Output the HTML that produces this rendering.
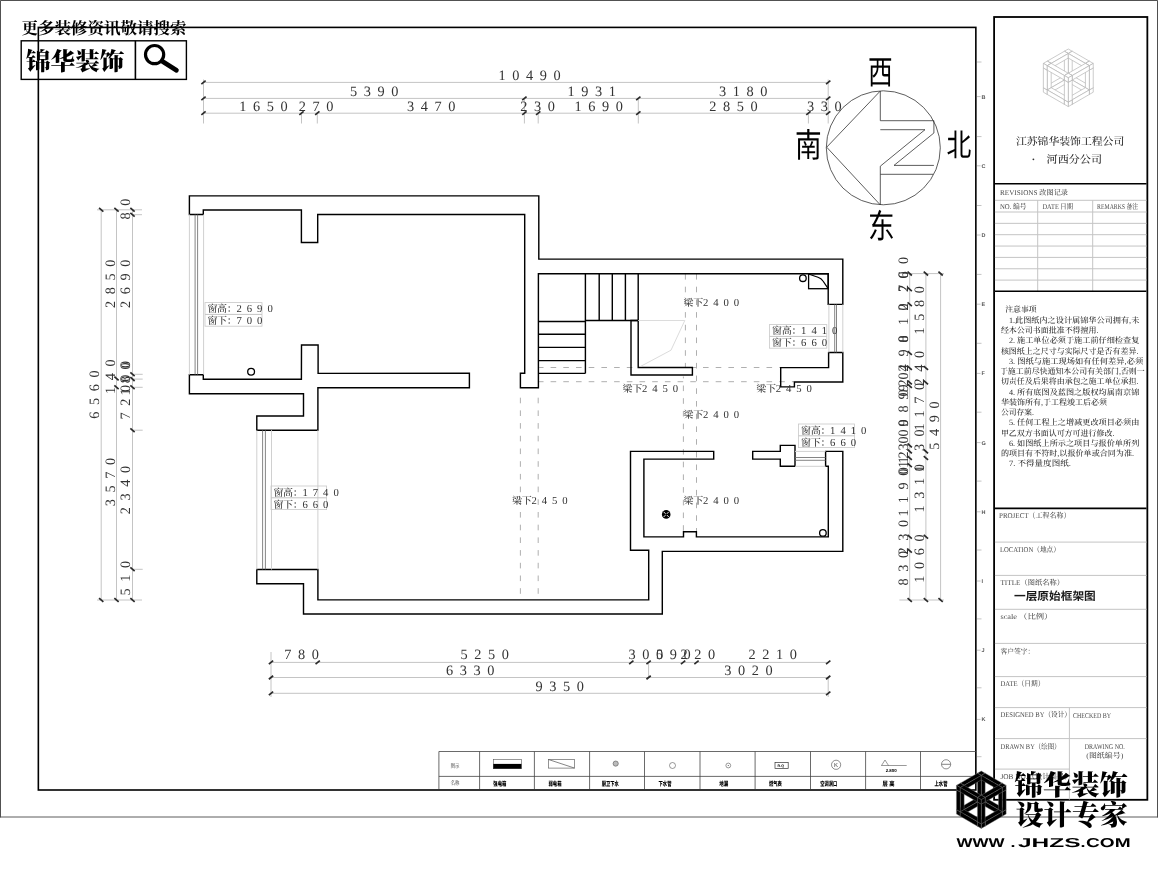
<!DOCTYPE html>
<html lang="zh-CN">
<head>
<meta charset="utf-8">
<title>一层原始框架图</title>
<style>
html,body{margin:0;padding:0;background:#fff;}
body{width:1158px;height:873px;overflow:hidden;}
svg{display:block;will-change:transform;}
text{text-rendering:geometricPrecision;}
.w{fill:none;stroke:#000;stroke-width:1.42;stroke-linejoin:miter;}
.fr{fill:none;stroke:#000;stroke-width:1.6;}
.fr2{fill:none;stroke:#000;stroke-width:1.8;}
.th{fill:none;stroke:#444;stroke-width:0.8;}
.g{stroke:#c4c4c4;stroke-width:1;fill:none;}
.g2{stroke:#d0d0d0;stroke-width:1;fill:none;}
.gl{stroke:#dcdcdc;stroke-width:1;fill:none;}
.wd{stroke:#666;stroke-width:0.8;fill:none;}
.da{stroke:#a6a6a6;stroke-width:0.9;fill:none;stroke-dasharray:5.6 7.1;}
.tk{stroke:#2a2a2a;stroke-width:1.7;fill:none;stroke-linecap:butt;}
.cp{stroke:#333;stroke-width:0.8;fill:none;}
.dm{font-family:"Liberation Serif","Noto Serif CJK SC",serif;font-size:14.3px;letter-spacing:6.6px;fill:#333;}
.lb{font-family:"Liberation Serif","Noto Serif CJK SC",serif;font-size:10px;letter-spacing:-0.3px;fill:#333;font-weight:500;}
.lb .n{font-size:10.7px;letter-spacing:4.95px;font-weight:400;}
.cj{font-family:"Liberation Sans","Noto Sans CJK SC",sans-serif;font-weight:400;fill:#000;}
.sm{font-family:"Liberation Serif","Noto Serif CJK SC",serif;font-size:7.4px;fill:#4a4a4a;font-weight:500;}
.nt{font-family:"Liberation Serif","Noto Serif CJK SC",serif;font-size:8px;fill:#2b2b2b;font-weight:500;}
.co{font-family:"Liberation Serif","Noto Serif CJK SC",serif;font-size:10.6px;fill:#2b2b2b;font-weight:500;}
.mg{font-family:"Liberation Sans",sans-serif;font-size:5.5px;fill:#555;font-weight:bold;}
.tt{font-family:"Liberation Sans","Noto Sans CJK SC",sans-serif;font-size:11.3px;fill:#1a1a1a;font-weight:700;}
.lg{font-family:"Liberation Sans","Noto Sans CJK SC",sans-serif;font-size:6.4px;fill:#000;font-weight:900;}
.lgg{font-family:"Liberation Serif","Noto Serif CJK SC",serif;font-size:6px;fill:#444;font-weight:500;}
.wm1{font-family:"Liberation Serif","Noto Serif CJK SC",serif;font-weight:700;font-size:16.5px;fill:#000;}
.wm2{font-family:"Liberation Serif","Noto Serif CJK SC",serif;font-weight:900;font-size:24.6px;fill:#000;}
.lg1{font-family:"Liberation Serif","Noto Serif CJK SC",serif;font-weight:900;font-size:28px;fill:#000;}
.url{font-family:"Liberation Sans",sans-serif;font-weight:bold;font-size:12.9px;fill:#000;}
</style>
</head>
<body>
<svg width="1158" height="873" viewBox="0 0 1158 873">
<rect x="0" y="0" width="1158" height="873" fill="#fff"/>
<path d="M0.45 817.4 L0.45 0.45 L1157.55 0.45 L1157.55 817.4" fill="none" stroke="#3c3c3c" stroke-width="0.95"/>
<line x1="0" y1="817" x2="1158" y2="817" stroke="#4a4a4a" stroke-width="0.9"/>
<rect class="fr" x="38.35" y="27.4" width="937.5" height="762.6"/>
<rect class="fr2" x="994.1" y="17" width="153.25" height="782.8"/>
<text class="mg" x="981.6" y="98.6">B</text>
<line class="g" x1="977" y1="96.6" x2="980.6" y2="96.6"/>
<text class="mg" x="981.6" y="167.8">C</text>
<line class="g" x1="977" y1="165.8" x2="980.6" y2="165.8"/>
<text class="mg" x="981.6" y="237">D</text>
<line class="g" x1="977" y1="235" x2="980.6" y2="235"/>
<text class="mg" x="981.6" y="306.2">E</text>
<line class="g" x1="977" y1="304.2" x2="980.6" y2="304.2"/>
<text class="mg" x="981.6" y="375.4">F</text>
<line class="g" x1="977" y1="373.4" x2="980.6" y2="373.4"/>
<text class="mg" x="981.6" y="444.6">G</text>
<line class="g" x1="977" y1="442.6" x2="980.6" y2="442.6"/>
<text class="mg" x="981.6" y="513.8">H</text>
<line class="g" x1="977" y1="511.8" x2="980.6" y2="511.8"/>
<text class="mg" x="981.6" y="583">I</text>
<line class="g" x1="977" y1="581" x2="980.6" y2="581"/>
<text class="mg" x="981.6" y="652.2">J</text>
<line class="g" x1="977" y1="650.2" x2="980.6" y2="650.2"/>
<text class="mg" x="981.6" y="721.4">K</text>
<line class="g" x1="977" y1="719.4" x2="980.6" y2="719.4"/>
<line class="g" x1="977" y1="62" x2="981.5" y2="62"/>
<line class="g" x1="977" y1="136.6" x2="981.5" y2="136.6"/>
<line class="g" x1="977" y1="205.5" x2="981.5" y2="205.5"/>
<line class="g" x1="977" y1="274.4" x2="981.5" y2="274.4"/>
<line class="g" x1="977" y1="343.3" x2="981.5" y2="343.3"/>
<line class="g" x1="977" y1="412.2" x2="981.5" y2="412.2"/>
<line class="g" x1="977" y1="481.1" x2="981.5" y2="481.1"/>
<line class="g" x1="977" y1="550" x2="981.5" y2="550"/>
<line class="g" x1="977" y1="618.9" x2="981.5" y2="618.9"/>
<line class="g" x1="977" y1="687.8" x2="981.5" y2="687.8"/>
<line class="g" x1="977" y1="756.7" x2="981.5" y2="756.7"/>
<line class="da" x1="685.4" y1="274" x2="685.4" y2="367.5" stroke-dashoffset="0"/>
<line class="da" x1="683.4" y1="376.5" x2="683.4" y2="531.5" stroke-dashoffset="3.7"/>
<line class="da" x1="696.5" y1="274" x2="696.5" y2="531.5" stroke-dashoffset="0"/>
<line class="da" x1="539.1" y1="367.5" x2="780.5" y2="367.5" stroke-dashoffset="1.2"/>
<line class="da" x1="539.1" y1="381.7" x2="794" y2="381.7" stroke-dashoffset="1.2"/>
<line class="da" x1="520.4" y1="397.7" x2="520.4" y2="599.5" stroke-dashoffset="0"/>
<line class="da" x1="538.2" y1="397.7" x2="538.2" y2="599.5" stroke-dashoffset="0"/>
<path class="w" d="M189.4 195.9 L538.8 195.9 L538.8 259.1 L842.8 259.1 L842.8 304.4 L828.2 304.4 L828.2 273.8 L538.4 273.8 L538.4 387.8 L520.4 387.8 L520.4 373.3 L524.7 373.3 L524.7 214.5 L317.7 214.5 L317.7 242.5 L301.4 242.5 L301.4 210 L203.3 210 L203.3 214.5 L189.4 214.5 Z"/>
<path class="w" d="M189.4 374.7 L203.3 374.7 L203.3 379.3 L301.4 379.3 L301.5 345 L318.1 345 L318.1 373.4 L469.4 373.3 L469.4 387.8 L317.9 387.8 L317.9 430.2 L256.8 430.2 L256.8 416 L303.5 416 L303.5 393.7 L189.4 393.7 Z"/>
<path class="w" d="M256.8 569.5 L317.9 569.5 L317.9 599.9 L648.7 599.9 L648.7 550.2 L630.5 550.2 L630.5 451.4 L713.7 451.4 L713.7 459.1 L643.9 459.1 L643.9 536.9 L683.5 536.9 L683.5 531.7 L696.4 531.7 L696.4 536.9 L828.3 536.9 L828.3 466.3 L825.6 466.3 L825.6 451.4 L842.8 451.4 L842.8 551.4 L662.3 551.4 L662.3 614 L303.5 614 L303.5 583.8 L256.8 583.8 Z"/>
<path class="w" d="M828.6 352.5 L842.8 352.5 L842.8 382 L794.4 382 L794.4 386.9 L780.7 386.9 L780.7 367.6 L828.6 367.6 Z"/>
<path class="w" d="M631 320.5 L638.2 320.5 L638.2 367.5 L692.4 367.5 L692.4 375 L631 375 Z"/>
<path class="w" d="M752.7 451.4 L780.3 451.4 L780.3 445.4 L795 445.4 L795 466.3 L780.3 466.3 L780.3 459.1 L752.7 459.1 Z"/>
<line class="w" x1="585.4" y1="273.8" x2="585.4" y2="373.4"/>
<line class="w" x1="538.4" y1="321.5" x2="585.4" y2="321.5"/>
<line class="w" x1="538.4" y1="334.3" x2="585.4" y2="334.3"/>
<line class="w" x1="538.4" y1="347.4" x2="585.4" y2="347.4"/>
<line class="w" x1="538.4" y1="360.6" x2="585.4" y2="360.6"/>
<line class="w" x1="538.4" y1="373.4" x2="585.4" y2="373.4"/>
<line class="w" x1="599.2" y1="273.8" x2="599.2" y2="320.5"/>
<line class="w" x1="612.3" y1="273.8" x2="612.3" y2="320.5"/>
<line class="w" x1="625.4" y1="273.8" x2="625.4" y2="320.5"/>
<line class="w" x1="638.2" y1="273.8" x2="638.2" y2="320.5"/>
<line class="w" x1="585.4" y1="320.5" x2="638.2" y2="320.5"/>
<path class="gl" d="M638.2 320.5 L684.8 320.5 L671 350.2 L640.6 366.4"/>
<line class="g2" x1="189.4" y1="214.5" x2="189.4" y2="374.7"/>
<line class="g2" x1="203.6" y1="214.5" x2="203.6" y2="374.7"/>
<line class="wd" x1="195.1" y1="214.5" x2="195.1" y2="374.7"/>
<line class="wd" x1="197.6" y1="214.5" x2="197.6" y2="374.7"/>
<line class="g2" x1="256.8" y1="430.2" x2="256.8" y2="569.5"/>
<line class="g2" x1="271.5" y1="430.2" x2="271.5" y2="569.5"/>
<line class="g2" x1="317.9" y1="430.2" x2="317.9" y2="569.5"/>
<line class="wd" x1="262.6" y1="430.2" x2="262.6" y2="569.5"/>
<line class="wd" x1="265.4" y1="430.2" x2="265.4" y2="569.5"/>
<line class="g2" x1="828.9" y1="304.4" x2="828.9" y2="352.5"/>
<line class="g2" x1="842.8" y1="304.4" x2="842.8" y2="352.5"/>
<line class="wd" x1="834.7" y1="304.4" x2="834.7" y2="352.5"/>
<line class="wd" x1="836.5" y1="304.4" x2="836.5" y2="352.5"/>
<line class="g2" x1="795" y1="451.4" x2="825.6" y2="451.4"/>
<line class="g2" x1="795" y1="466.3" x2="825.6" y2="466.3"/>
<line class="wd" x1="795" y1="457.5" x2="825.6" y2="457.5"/>
<line class="wd" x1="795" y1="460.3" x2="825.6" y2="460.3"/>
<circle class="w" cx="251.1" cy="371.8" r="3.4" style="stroke-width:1.3"/>
<circle class="w" cx="802.9" cy="278.2" r="3.3" style="stroke-width:1.3"/>
<circle class="w" cx="822.9" cy="532.9" r="3.3" style="stroke-width:1.3;fill:#fff"/>
<circle cx="666.2" cy="514.4" r="4.3" fill="#000"/>
<path d="M663.6 511.8 L668.8 517 M668.8 511.8 L663.6 517" stroke="#fff" stroke-width="0.9" fill="none"/>
<circle cx="666.2" cy="514.4" r="0.9" fill="#000"/>
<rect class="w" x="808.6" y="273.8" width="19.6" height="14.9" style="stroke-width:1.3"/>
<path class="w" d="M809.2 274.2 L818 277.2 Q821.3 278.3 823 281 L828 288.3" style="stroke-width:1.2"/>
<rect class="g" x="205" y="302.6" width="57" height="23.6" style="stroke:#c8c8c8;stroke-width:0.8"/>
<text class="lb" x="207.4" y="312.3">窗高：<tspan class="n">2690</tspan></text>
<line class="g" x1="205" y1="314.4" x2="262" y2="314.4"/>
<text class="lb" x="207.4" y="324.1">窗下：<tspan class="n">700</tspan></text>
<rect class="g" x="271" y="486" width="55.6" height="23.6" style="stroke:#c8c8c8;stroke-width:0.8"/>
<text class="lb" x="273.4" y="495.7">窗高：<tspan class="n">1740</tspan></text>
<line class="g" x1="271" y1="497.8" x2="326.6" y2="497.8"/>
<text class="lb" x="273.4" y="507.5">窗下：<tspan class="n">660</tspan></text>
<rect class="g" x="769.6" y="324.6" width="57.2" height="23.6" style="stroke:#c8c8c8;stroke-width:0.8"/>
<text class="lb" x="772" y="334.3">窗高：<tspan class="n">1410</tspan></text>
<line class="g" x1="769.6" y1="336.4" x2="826.8" y2="336.4"/>
<text class="lb" x="772" y="346.1">窗下：<tspan class="n">660</tspan></text>
<rect class="g" x="798.6" y="424" width="56" height="23.6" style="stroke:#c8c8c8;stroke-width:0.8"/>
<text class="lb" x="801" y="433.7">窗高：<tspan class="n">1410</tspan></text>
<line class="g" x1="798.6" y1="435.8" x2="854.6" y2="435.8"/>
<text class="lb" x="801" y="445.5">窗下：<tspan class="n">660</tspan></text>
<text class="lb" x="683.5" y="306.1">梁下<tspan class="n">2400</tspan></text>
<text class="lb" x="683.5" y="417.8">梁下<tspan class="n">2400</tspan></text>
<text class="lb" x="683.5" y="504.3">梁下<tspan class="n">2400</tspan></text>
<text class="lb" x="622.5" y="391.8">梁下<tspan class="n">2450</tspan></text>
<text class="lb" x="756.3" y="391.8">梁下<tspan class="n">2450</tspan></text>
<text class="lb" x="512" y="504.3">梁下<tspan class="n">2450</tspan></text>
<circle class="cp" cx="883.3" cy="147.8" r="57"/>
<path class="cp" d="M880.3 120.7 L880.3 91 L826.7 147.2 L880.3 204.9 L880.3 166.2 L925 129.7 L880.3 129.7 M880.3 120.7 L933.9 120.7 L933.9 133 L894 165.4 L933.9 165.4 M880.3 174.3 L933.2 174.3"/>
<text class="cj" transform="translate(880.4 83.62) scale(0.74 1)" text-anchor="middle" font-size="33.3">西</text>
<text class="cj" transform="translate(808.2 157.12) scale(0.8 1)" text-anchor="middle" font-size="33.3">南</text>
<text class="cj" transform="translate(959 156.47) scale(0.8 1)" text-anchor="middle" font-size="31">北</text>
<text class="cj" transform="translate(881.4 237.72) scale(0.8 1)" text-anchor="middle" font-size="33.3">东</text>
<line class="g" x1="203.5" y1="82.4" x2="828.2" y2="82.4"/>
<line class="g" x1="203.5" y1="98.4" x2="828.2" y2="98.4"/>
<line class="g" x1="203.5" y1="113.2" x2="828.2" y2="113.2"/>
<line class="g" x1="203.5" y1="79.5" x2="203.5" y2="123.5"/>
<line class="g" x1="828.2" y1="79.5" x2="828.2" y2="123.5"/>
<line class="g" x1="301.5" y1="113.2" x2="301.5" y2="123.5"/>
<line class="g" x1="317.3" y1="113.2" x2="317.3" y2="123.5"/>
<line class="g" x1="524.4" y1="113.2" x2="524.4" y2="123.5"/>
<line class="g" x1="538.2" y1="113.2" x2="538.2" y2="123.5"/>
<line class="g" x1="638.3" y1="113.2" x2="638.3" y2="123.5"/>
<line class="g" x1="808.4" y1="113.2" x2="808.4" y2="123.5"/>
<line class="g" x1="524.4" y1="98.4" x2="524.4" y2="113.2"/>
<line class="g" x1="638.3" y1="98.4" x2="638.3" y2="113.2"/>
<line class="tk" x1="201.35" y1="84.15" x2="205.65" y2="80.65"/>
<line class="tk" x1="826.05" y1="84.15" x2="830.35" y2="80.65"/>
<line class="tk" x1="201.35" y1="100.15" x2="205.65" y2="96.65"/>
<line class="tk" x1="522.25" y1="100.15" x2="526.55" y2="96.65"/>
<line class="tk" x1="636.15" y1="100.15" x2="640.45" y2="96.65"/>
<line class="tk" x1="826.05" y1="100.15" x2="830.35" y2="96.65"/>
<line class="tk" x1="201.35" y1="114.95" x2="205.65" y2="111.45"/>
<line class="tk" x1="299.35" y1="114.95" x2="303.65" y2="111.45"/>
<line class="tk" x1="315.15" y1="114.95" x2="319.45" y2="111.45"/>
<line class="tk" x1="522.25" y1="114.95" x2="526.55" y2="111.45"/>
<line class="tk" x1="536.05" y1="114.95" x2="540.35" y2="111.45"/>
<line class="tk" x1="636.15" y1="114.95" x2="640.45" y2="111.45"/>
<line class="tk" x1="806.25" y1="114.95" x2="810.55" y2="111.45"/>
<line class="tk" x1="826.05" y1="114.95" x2="830.35" y2="111.45"/>
<text class="dm" x="498.5" y="80.1">10490</text>
<text class="dm" x="350" y="96">5390</text>
<text class="dm" x="567.6" y="96">1931</text>
<text class="dm" x="718.9" y="96">3180</text>
<text class="dm" x="239.2" y="111.4">1650</text>
<text class="dm" x="298.8" y="111.4">270</text>
<text class="dm" x="407" y="111.4">3470</text>
<text class="dm" x="520.3" y="111.4">230</text>
<text class="dm" x="574.5" y="111.4">1690</text>
<text class="dm" x="709.2" y="111.4">2850</text>
<text class="dm" x="806.9" y="111.4">330</text>
<line class="g" x1="271" y1="662.4" x2="828.2" y2="662.4"/>
<line class="g" x1="271" y1="677.5" x2="828.2" y2="677.5"/>
<line class="g" x1="271" y1="693.3" x2="828.2" y2="693.3"/>
<line class="g" x1="271" y1="652" x2="271" y2="697"/>
<line class="g" x1="828.2" y1="677.5" x2="828.2" y2="697"/>
<line class="g" x1="648.6" y1="662.4" x2="648.6" y2="677.5"/>
<line class="tk" x1="268.85" y1="664.15" x2="273.15" y2="660.65"/>
<line class="tk" x1="315.55" y1="664.15" x2="319.85" y2="660.65"/>
<line class="tk" x1="629.15" y1="664.15" x2="633.45" y2="660.65"/>
<line class="tk" x1="646.45" y1="664.15" x2="650.75" y2="660.65"/>
<line class="tk" x1="680.95" y1="664.15" x2="685.25" y2="660.65"/>
<line class="tk" x1="694.35" y1="664.15" x2="698.65" y2="660.65"/>
<line class="tk" x1="826.05" y1="664.15" x2="830.35" y2="660.65"/>
<line class="tk" x1="268.85" y1="679.25" x2="273.15" y2="675.75"/>
<line class="tk" x1="646.45" y1="679.25" x2="650.75" y2="675.75"/>
<line class="tk" x1="826.05" y1="679.25" x2="830.35" y2="675.75"/>
<line class="tk" x1="268.85" y1="695.05" x2="273.15" y2="691.55"/>
<line class="tk" x1="826.05" y1="695.05" x2="830.35" y2="691.55"/>
<text class="dm" x="284.2" y="659.1">780</text>
<text class="dm" x="460.4" y="659.1">5250</text>
<text class="dm" x="628.5" y="659.1">300</text>
<text class="dm" x="656" y="659.1">590</text>
<text class="dm" x="680.4" y="659.1">220</text>
<text class="dm" x="748.4" y="659.1">2210</text>
<text class="dm" x="446" y="674.9">6330</text>
<text class="dm" x="724.2" y="674.9">3020</text>
<text class="dm" x="535.4" y="690.6">9350</text>
<line class="g" x1="101.2" y1="209.8" x2="101.2" y2="600"/>
<line class="g" x1="116.5" y1="209.8" x2="116.5" y2="600"/>
<line class="g" x1="132.5" y1="209.8" x2="132.5" y2="600"/>
<line class="g" x1="97" y1="209.8" x2="142" y2="209.8"/>
<line class="g" x1="132.5" y1="214.7" x2="142" y2="214.7"/>
<line class="g" x1="97" y1="600" x2="142" y2="600"/>
<line class="g" x1="132.5" y1="374.3" x2="142.7" y2="374.3"/>
<line class="g" x1="132.5" y1="379.1" x2="142.7" y2="379.1"/>
<line class="g" x1="132.5" y1="387.3" x2="142.7" y2="387.3"/>
<line class="g" x1="132.5" y1="430.2" x2="142.7" y2="430.2"/>
<line class="g" x1="132.5" y1="569.3" x2="142.7" y2="569.3"/>
<line class="tk" x1="99.05" y1="207.9" x2="103.35" y2="211.7"/>
<line class="tk" x1="99.05" y1="598.1" x2="103.35" y2="601.9"/>
<line class="tk" x1="114.35" y1="207.9" x2="118.65" y2="211.7"/>
<line class="tk" x1="114.35" y1="598.1" x2="118.65" y2="601.9"/>
<line class="tk" x1="130.35" y1="207.9" x2="134.65" y2="211.7"/>
<line class="tk" x1="130.35" y1="598.1" x2="134.65" y2="601.9"/>
<line class="tk" x1="130.35" y1="212.8" x2="134.65" y2="216.6"/>
<line class="tk" x1="130.35" y1="372.4" x2="134.65" y2="376.2"/>
<line class="tk" x1="130.35" y1="377.2" x2="134.65" y2="381"/>
<line class="tk" x1="130.35" y1="385.4" x2="134.65" y2="389.2"/>
<line class="tk" x1="130.35" y1="428.3" x2="134.65" y2="432.1"/>
<line class="tk" x1="130.35" y1="567.4" x2="134.65" y2="571.2"/>
<line class="tk" x1="114.35" y1="376.6" x2="118.65" y2="380.4"/>
<line class="tk" x1="114.35" y1="385.4" x2="118.65" y2="389.2"/>
<text class="dm" transform="translate(99 418.8) rotate(-90)">6560</text>
<text class="dm" transform="translate(114.5 308) rotate(-90)">2850</text>
<text class="dm" transform="translate(114.5 394.1) rotate(-90)">140</text>
<text class="dm" transform="translate(114.5 506.2) rotate(-90)">3570</text>
<text class="dm" transform="translate(130.3 219.5) rotate(-90)">80</text>
<text class="dm" transform="translate(130.3 308) rotate(-90)">2690</text>
<text class="dm" transform="translate(130.3 419.6) rotate(-90)">720</text>
<text class="dm" transform="translate(130.3 395.6) rotate(-90)">100</text>
<text class="dm" transform="translate(130.3 383.3) rotate(-90)">80</text>
<text class="dm" transform="translate(130.3 514.2) rotate(-90)">2340</text>
<text class="dm" transform="translate(130.3 595.4) rotate(-90)">510</text>
<line class="g" x1="909.7" y1="273.6" x2="909.7" y2="600"/>
<line class="g" x1="925.9" y1="273.6" x2="925.9" y2="600"/>
<line class="g" x1="940.6" y1="273.6" x2="940.6" y2="600"/>
<line class="g" x1="899.4" y1="600" x2="944" y2="600"/>
<line class="g" x1="903" y1="273.6" x2="944" y2="273.6"/>
<line class="tk" x1="907.55" y1="271.7" x2="911.85" y2="275.5"/>
<line class="tk" x1="907.55" y1="598.1" x2="911.85" y2="601.9"/>
<line class="tk" x1="923.75" y1="271.7" x2="928.05" y2="275.5"/>
<line class="tk" x1="923.75" y1="598.1" x2="928.05" y2="601.9"/>
<line class="tk" x1="938.45" y1="271.7" x2="942.75" y2="275.5"/>
<line class="tk" x1="938.45" y1="598.1" x2="942.75" y2="601.9"/>
<line class="tk" x1="907.55" y1="287.4" x2="911.85" y2="291.2"/>
<line class="tk" x1="907.55" y1="302.4" x2="911.85" y2="306.2"/>
<line class="tk" x1="907.55" y1="351.1" x2="911.85" y2="354.9"/>
<line class="tk" x1="907.55" y1="366.1" x2="911.85" y2="369.9"/>
<line class="tk" x1="907.55" y1="380.6" x2="911.85" y2="384.4"/>
<line class="tk" x1="907.55" y1="384.1" x2="911.85" y2="387.9"/>
<line class="tk" x1="907.55" y1="443.5" x2="911.85" y2="447.3"/>
<line class="tk" x1="907.55" y1="449.5" x2="911.85" y2="453.3"/>
<line class="tk" x1="907.55" y1="456.1" x2="911.85" y2="459.9"/>
<line class="tk" x1="907.55" y1="463.4" x2="911.85" y2="467.2"/>
<line class="tk" x1="907.55" y1="534.9" x2="911.85" y2="538.7"/>
<line class="tk" x1="907.55" y1="548.8" x2="911.85" y2="552.6"/>
<line class="tk" x1="923.75" y1="366.1" x2="928.05" y2="369.9"/>
<line class="tk" x1="923.75" y1="380.6" x2="928.05" y2="384.4"/>
<line class="tk" x1="923.75" y1="449.5" x2="928.05" y2="453.3"/>
<line class="tk" x1="923.75" y1="456.1" x2="928.05" y2="459.9"/>
<line class="tk" x1="923.75" y1="534.9" x2="928.05" y2="538.7"/>
<text class="dm" transform="translate(938.6 449.8) rotate(-90)">5490</text>
<text class="dm" transform="translate(923.6 334.6) rotate(-90)">1580</text>
<text class="dm" transform="translate(923.6 385.6) rotate(-90)">240</text>
<text class="dm" transform="translate(923.6 430.6) rotate(-90)">1170</text>
<text class="dm" transform="translate(923.6 512.6) rotate(-90)">1310</text>
<text class="dm" transform="translate(923.6 582.8) rotate(-90)">1060</text>
<text class="dm" transform="translate(923.6 436.6) rotate(-90)">0</text>
<text class="dm" transform="translate(923.6 451) rotate(-90)">3</text>
<text class="dm" transform="translate(923.6 471.9) rotate(-90)">1</text>
<text class="dm" transform="translate(907.9 585.6) rotate(-90)">830</text>
<text class="dm" transform="translate(907.9 554.6) rotate(-90)">230</text>
<text class="dm" transform="translate(907.9 516.4) rotate(-90)">1190</text>
<text class="dm" transform="translate(907.9 264) rotate(-90)">0</text>
<text class="dm" transform="translate(907.9 278.6) rotate(-90)">6</text>
<text class="dm" transform="translate(907.9 278.6) rotate(-90)">0</text>
<text class="dm" transform="translate(907.9 292.1) rotate(-90)">2</text>
<text class="dm" transform="translate(907.9 292.1) rotate(-90)">7</text>
<text class="dm" transform="translate(907.9 310.6) rotate(-90)">0</text>
<text class="dm" transform="translate(907.9 310.6) rotate(-90)">2</text>
<text class="dm" transform="translate(907.9 325.1) rotate(-90)">1</text>
<text class="dm" transform="translate(907.9 342.6) rotate(-90)">8</text>
<text class="dm" transform="translate(907.9 342.6) rotate(-90)">0</text>
<text class="dm" transform="translate(907.9 356.6) rotate(-90)">9</text>
<text class="dm" transform="translate(907.9 371.6) rotate(-90)">2</text>
<text class="dm" transform="translate(907.9 371.6) rotate(-90)">4</text>
<text class="dm" transform="translate(907.9 379.6) rotate(-90)">0</text>
<text class="dm" transform="translate(907.9 386.6) rotate(-90)">2</text>
<text class="dm" transform="translate(907.9 391.6) rotate(-90)">9</text>
<text class="dm" transform="translate(907.9 396.6) rotate(-90)">0</text>
<text class="dm" transform="translate(907.9 399.6) rotate(-90)">9</text>
<text class="dm" transform="translate(907.9 412.6) rotate(-90)">8</text>
<text class="dm" transform="translate(907.9 426.6) rotate(-90)">0</text>
<text class="dm" transform="translate(907.9 426.6) rotate(-90)">9</text>
<text class="dm" transform="translate(907.9 436.6) rotate(-90)">0</text>
<text class="dm" transform="translate(907.9 443.6) rotate(-90)">0</text>
<text class="dm" transform="translate(907.9 450.6) rotate(-90)">3</text>
<text class="dm" transform="translate(907.9 458.6) rotate(-90)">2</text>
<text class="dm" transform="translate(907.9 463.6) rotate(-90)">1</text>
<text class="dm" transform="translate(907.9 468.1) rotate(-90)">1</text>
<text class="dm" transform="translate(907.9 474.3) rotate(-90)">0</text>
<g fill="#fff" stroke="#b4b4b4" stroke-width="0.7" stroke-linejoin="round">
<path d="M1068.3 73.28 L1072.22 75.54 L1068.3 77.8 L1064.38 75.54 Z"/>
<path d="M1072.22 80.06 L1068.3 82.32 L1068.3 77.8 L1072.22 75.54 Z"/>
<path d="M1064.38 80.06 L1068.3 82.32 L1068.3 77.8 L1064.38 75.54 Z"/>
<path d="M1068.3 53.52 L1072.22 55.78 L1068.3 58.04 L1064.38 55.78 Z"/>
<path d="M1072.22 75.54 L1068.3 77.8 L1068.3 58.04 L1072.22 55.78 Z"/>
<path d="M1064.38 75.54 L1068.3 77.8 L1068.3 58.04 L1064.38 55.78 Z"/>
<path d="M1064.38 75.54 L1068.3 77.8 L1051.19 87.68 L1047.27 85.42 Z"/>
<path d="M1068.3 82.32 L1051.19 92.2 L1051.19 87.68 L1068.3 77.8 Z"/>
<path d="M1047.27 89.94 L1051.19 92.2 L1051.19 87.68 L1047.27 85.42 Z"/>
<path d="M1072.22 75.54 L1089.33 85.42 L1085.41 87.68 L1068.3 77.8 Z"/>
<path d="M1089.33 89.94 L1085.41 92.2 L1085.41 87.68 L1089.33 85.42 Z"/>
<path d="M1068.3 82.32 L1085.41 92.2 L1085.41 87.68 L1068.3 77.8 Z"/>
<path d="M1068.3 49 L1072.22 51.26 L1068.3 53.52 L1064.38 51.26 Z"/>
<path d="M1072.22 55.78 L1068.3 58.04 L1068.3 53.52 L1072.22 51.26 Z"/>
<path d="M1064.38 55.78 L1068.3 58.04 L1068.3 53.52 L1064.38 51.26 Z"/>
<path d="M1047.27 85.42 L1051.19 87.68 L1047.27 89.94 L1043.36 87.68 Z"/>
<path d="M1051.19 92.2 L1047.27 94.46 L1047.27 89.94 L1051.19 87.68 Z"/>
<path d="M1043.36 92.2 L1047.27 94.46 L1047.27 89.94 L1043.36 87.68 Z"/>
<path d="M1089.33 85.42 L1093.24 87.68 L1089.33 89.94 L1085.41 87.68 Z"/>
<path d="M1093.24 92.2 L1089.33 94.46 L1089.33 89.94 L1093.24 87.68 Z"/>
<path d="M1085.41 92.2 L1089.33 94.46 L1089.33 89.94 L1085.41 87.68 Z"/>
<path d="M1064.38 51.26 L1068.3 53.52 L1051.19 63.4 L1047.27 61.14 Z"/>
<path d="M1068.3 58.04 L1051.19 67.92 L1051.19 63.4 L1068.3 53.52 Z"/>
<path d="M1047.27 65.66 L1051.19 67.92 L1051.19 63.4 L1047.27 61.14 Z"/>
<path d="M1047.27 65.66 L1051.19 67.92 L1047.27 70.18 L1043.36 67.92 Z"/>
<path d="M1051.19 87.68 L1047.27 89.94 L1047.27 70.18 L1051.19 67.92 Z"/>
<path d="M1043.36 87.68 L1047.27 89.94 L1047.27 70.18 L1043.36 67.92 Z"/>
<path d="M1072.22 51.26 L1089.33 61.14 L1085.41 63.4 L1068.3 53.52 Z"/>
<path d="M1089.33 65.66 L1085.41 67.92 L1085.41 63.4 L1089.33 61.14 Z"/>
<path d="M1068.3 58.04 L1085.41 67.92 L1085.41 63.4 L1068.3 53.52 Z"/>
<path d="M1051.19 87.68 L1068.3 97.56 L1064.38 99.82 L1047.27 89.94 Z"/>
<path d="M1068.3 102.08 L1064.38 104.34 L1064.38 99.82 L1068.3 97.56 Z"/>
<path d="M1047.27 94.46 L1064.38 104.34 L1064.38 99.82 L1047.27 89.94 Z"/>
<path d="M1089.33 65.66 L1093.24 67.92 L1089.33 70.18 L1085.41 67.92 Z"/>
<path d="M1093.24 87.68 L1089.33 89.94 L1089.33 70.18 L1093.24 67.92 Z"/>
<path d="M1085.41 87.68 L1089.33 89.94 L1089.33 70.18 L1085.41 67.92 Z"/>
<path d="M1085.41 87.68 L1089.33 89.94 L1072.22 99.82 L1068.3 97.56 Z"/>
<path d="M1089.33 94.46 L1072.22 104.34 L1072.22 99.82 L1089.33 89.94 Z"/>
<path d="M1068.3 102.08 L1072.22 104.34 L1072.22 99.82 L1068.3 97.56 Z"/>
<path d="M1047.27 61.14 L1051.19 63.4 L1047.27 65.66 L1043.36 63.4 Z"/>
<path d="M1051.19 67.92 L1047.27 70.18 L1047.27 65.66 L1051.19 63.4 Z"/>
<path d="M1043.36 67.92 L1047.27 70.18 L1047.27 65.66 L1043.36 63.4 Z"/>
<path d="M1089.33 61.14 L1093.24 63.4 L1089.33 65.66 L1085.41 63.4 Z"/>
<path d="M1093.24 67.92 L1089.33 70.18 L1089.33 65.66 L1093.24 63.4 Z"/>
<path d="M1085.41 67.92 L1089.33 70.18 L1089.33 65.66 L1085.41 63.4 Z"/>
<path d="M1068.3 97.56 L1072.22 99.82 L1068.3 102.08 L1064.38 99.82 Z"/>
<path d="M1072.22 104.34 L1068.3 106.6 L1068.3 102.08 L1072.22 99.82 Z"/>
<path d="M1064.38 104.34 L1068.3 106.6 L1068.3 102.08 L1064.38 99.82 Z"/>
<path d="M1051.19 63.4 L1068.3 73.28 L1064.38 75.54 L1047.27 65.66 Z"/>
<path d="M1068.3 77.8 L1064.38 80.06 L1064.38 75.54 L1068.3 73.28 Z"/>
<path d="M1047.27 70.18 L1064.38 80.06 L1064.38 75.54 L1047.27 65.66 Z"/>
<path d="M1085.41 63.4 L1089.33 65.66 L1072.22 75.54 L1068.3 73.28 Z"/>
<path d="M1089.33 70.18 L1072.22 80.06 L1072.22 75.54 L1089.33 65.66 Z"/>
<path d="M1068.3 77.8 L1072.22 80.06 L1072.22 75.54 L1068.3 73.28 Z"/>
<path d="M1068.3 77.8 L1072.22 80.06 L1068.3 82.32 L1064.38 80.06 Z"/>
<path d="M1072.22 99.82 L1068.3 102.08 L1068.3 82.32 L1072.22 80.06 Z"/>
<path d="M1064.38 99.82 L1068.3 102.08 L1068.3 82.32 L1064.38 80.06 Z"/>
<path d="M1068.3 73.28 L1072.22 75.54 L1068.3 77.8 L1064.38 75.54 Z"/>
<path d="M1072.22 80.06 L1068.3 82.32 L1068.3 77.8 L1072.22 75.54 Z"/>
<path d="M1064.38 80.06 L1068.3 82.32 L1068.3 77.8 L1064.38 75.54 Z"/>
</g>
<text class="co" x="1070.1" y="144.5" textLength="108.4" lengthAdjust="spacingAndGlyphs" text-anchor="middle">江苏锦华装饰工程公司</text>
<text class="co" x="1046.6" y="163" textLength="55.4" lengthAdjust="spacingAndGlyphs">河西分公司</text>
<circle cx="1033.4" cy="159.3" r="0.9" fill="#333"/>
<line class="fr" x1="994.9" y1="183.8" x2="1146.5" y2="183.8"/>
<text class="sm" x="1000" y="195" textLength="68" lengthAdjust="spacingAndGlyphs">REVISIONS 改图记录</text>
<line class="g" x1="994.9" y1="200.3" x2="1146.5" y2="200.3"/>
<text class="sm" x="1000" y="209.3" textLength="26.6" lengthAdjust="spacingAndGlyphs">NO. 编号</text>
<text class="sm" x="1042.5" y="209.3" textLength="30.6" lengthAdjust="spacingAndGlyphs">DATE 日期</text>
<text class="sm" x="1097.1" y="209.3" textLength="41" lengthAdjust="spacingAndGlyphs">REMARKS 备注</text>
<line class="g" x1="994.9" y1="212" x2="1146.5" y2="212"/>
<line class="g" x1="994.9" y1="223.35" x2="1146.5" y2="223.35"/>
<line class="g" x1="994.9" y1="234.7" x2="1146.5" y2="234.7"/>
<line class="g" x1="994.9" y1="246.05" x2="1146.5" y2="246.05"/>
<line class="g" x1="994.9" y1="257.4" x2="1146.5" y2="257.4"/>
<line class="g" x1="994.9" y1="268.75" x2="1146.5" y2="268.75"/>
<line class="g" x1="994.9" y1="280.1" x2="1146.5" y2="280.1"/>
<line class="g" x1="994.9" y1="291.45" x2="1146.5" y2="291.45"/>
<line class="g" x1="1037.7" y1="200.3" x2="1037.7" y2="291.2"/>
<line class="g" x1="1092.7" y1="200.3" x2="1092.7" y2="291.2"/>
<line class="fr" x1="994.9" y1="291.2" x2="1146.5" y2="291.2"/>
<text class="nt" x="1005.2" y="312.2" textLength="31.4" lengthAdjust="spacingAndGlyphs">注意事项</text>
<text class="nt" x="1008.9" y="322.8" textLength="130.4" lengthAdjust="spacingAndGlyphs">1.此图纸内之设计属锦华公司拥有,未</text>
<text class="nt" x="1000.9" y="333.06" textLength="97.6" lengthAdjust="spacingAndGlyphs">经本公司书面批准不得擅用.</text>
<text class="nt" x="1008.9" y="343.31" textLength="130.4" lengthAdjust="spacingAndGlyphs">2. 施工单位必须于施工前仔细检查复</text>
<text class="nt" x="1000.9" y="353.57" textLength="137.5" lengthAdjust="spacingAndGlyphs">核图纸上之尺寸与实际尺寸是否有差异.</text>
<text class="nt" x="1008.9" y="363.83" textLength="134.3" lengthAdjust="spacingAndGlyphs">3. 图纸与施工现场如有任何差异,必须</text>
<text class="nt" x="999.9" y="374.08" textLength="144.8" lengthAdjust="spacingAndGlyphs">于施工前尽快通知本公司有关部门,否则一</text>
<text class="nt" x="1000.9" y="384.34" textLength="137.5" lengthAdjust="spacingAndGlyphs">切责任及后果将由承包之施工单位承担.</text>
<text class="nt" x="1008.9" y="394.6" textLength="130.4" lengthAdjust="spacingAndGlyphs">4. 所有底图及蓝图之版权均属南京锦</text>
<text class="nt" x="1000.9" y="404.86" textLength="106.1" lengthAdjust="spacingAndGlyphs">华装饰所有,于工程竣工后必须</text>
<text class="nt" x="1000.9" y="415.11" textLength="33" lengthAdjust="spacingAndGlyphs">公司存案.</text>
<text class="nt" x="1008.9" y="425.37" textLength="130.4" lengthAdjust="spacingAndGlyphs">5. 任何工程上之增减更改项目必须由</text>
<text class="nt" x="1000.9" y="435.63" textLength="113.5" lengthAdjust="spacingAndGlyphs">甲乙双方书面认可方可进行修改.</text>
<text class="nt" x="1008.9" y="445.88" textLength="130.4" lengthAdjust="spacingAndGlyphs">6. 如图纸上所示之项目与报价单所列</text>
<text class="nt" x="1000.9" y="456.14" textLength="133.1" lengthAdjust="spacingAndGlyphs">的项目有不符时,以报价单或合同为准.</text>
<text class="nt" x="1008.9" y="466.4" textLength="62" lengthAdjust="spacingAndGlyphs">7. 不得量度图纸.</text>
<line class="fr" x1="994.9" y1="508.4" x2="1146.5" y2="508.4"/>
<text class="sm" x="999" y="518" textLength="71.6" lengthAdjust="spacingAndGlyphs">PROJECT（工程名称）</text>
<line class="g" x1="994.9" y1="542.1" x2="1146.5" y2="542.1"/>
<text class="sm" x="999.9" y="552" textLength="60" lengthAdjust="spacingAndGlyphs">LOCATION（地点）</text>
<line class="g" x1="994.9" y1="575.4" x2="1146.5" y2="575.4"/>
<text class="sm" x="1000.4" y="585.4" textLength="63.6" lengthAdjust="spacingAndGlyphs">TITLE（图纸名称）</text>
<text class="tt" x="1014" y="600" textLength="81.8" lengthAdjust="spacingAndGlyphs">一层原始框架图</text>
<line class="g" x1="994.9" y1="609.3" x2="1146.5" y2="609.3"/>
<text class="sm" x="1000.4" y="619.3" textLength="52" lengthAdjust="spacingAndGlyphs">scale （比例）</text>
<line class="g" x1="994.9" y1="643.4" x2="1146.5" y2="643.4"/>
<text class="sm" x="1000.4" y="653.5" textLength="34" lengthAdjust="spacingAndGlyphs">客户签字：</text>
<line class="g" x1="994.9" y1="676.6" x2="1146.5" y2="676.6"/>
<text class="sm" x="1000.5" y="686.4" textLength="44" lengthAdjust="spacingAndGlyphs">DATE（日期）</text>
<line class="g" x1="994.9" y1="707.6" x2="1146.5" y2="707.6"/>
<text class="sm" x="1000.5" y="717.4" textLength="70.5" lengthAdjust="spacingAndGlyphs">DESIGNED BY（设计）</text>
<text class="sm" x="1073" y="717.6" textLength="38" lengthAdjust="spacingAndGlyphs">CHECKED BY</text>
<line class="g" x1="1069.4" y1="707.6" x2="1069.4" y2="799.6"/>
<line class="g" x1="994.9" y1="738.6" x2="1146.5" y2="738.6"/>
<text class="sm" x="1000.5" y="748.5" textLength="60" lengthAdjust="spacingAndGlyphs">DRAWN BY（绘图）</text>
<text class="sm" x="1104.8" y="748.7" textLength="40" lengthAdjust="spacingAndGlyphs" text-anchor="middle">DRAWING NO.</text>
<text class="sm" x="1104.8" y="757.7" textLength="37" lengthAdjust="spacingAndGlyphs" text-anchor="middle">(图纸编号)</text>
<line class="g" x1="994.9" y1="769.1" x2="1069.4" y2="769.1"/>
<text class="sm" x="1000.5" y="779.2" textLength="71" lengthAdjust="spacingAndGlyphs">JOB NO.（设计编号）</text>
<line class="th" x1="438.9" y1="751.5" x2="976" y2="751.5"/>
<line class="th" x1="438.9" y1="776.4" x2="976" y2="776.4"/>
<line class="th" x1="438.9" y1="751.5" x2="438.9" y2="789"/>
<line class="th" x1="479.6" y1="751.5" x2="479.6" y2="789"/>
<line class="th" x1="534.4" y1="751.5" x2="534.4" y2="789"/>
<line class="th" x1="589.6" y1="751.5" x2="589.6" y2="789"/>
<line class="th" x1="644.5" y1="751.5" x2="644.5" y2="789"/>
<line class="th" x1="700" y1="751.5" x2="700" y2="789"/>
<line class="th" x1="755.1" y1="751.5" x2="755.1" y2="789"/>
<line class="th" x1="810.5" y1="751.5" x2="810.5" y2="789"/>
<line class="th" x1="865.6" y1="751.5" x2="865.6" y2="789"/>
<line class="th" x1="920.5" y1="751.5" x2="920.5" y2="789"/>
<text class="lgg" x="450.6" y="768.4" textLength="8.8" lengthAdjust="spacingAndGlyphs">图示</text>
<text class="lgg" x="450.6" y="785.3" textLength="8.8" lengthAdjust="spacingAndGlyphs">名称</text>
<rect x="493.3" y="759.5" width="28.1" height="9.2" fill="#fff" stroke="#555" stroke-width="0.6"/>
<rect x="493.3" y="763.9" width="28.1" height="4.8" fill="#000"/>
<rect x="548.5" y="759.5" width="26.1" height="8.6" fill="none" stroke="#666" stroke-width="0.7"/>
<line class="wd" x1="548.5" y1="759.5" x2="574.6" y2="768.1"/>
<circle cx="615.7" cy="763.6" r="2.6" fill="#bbb" stroke="#555" stroke-width="0.6"/>
<circle cx="672.5" cy="765.5" r="3" fill="none" stroke="#555" stroke-width="0.6"/>
<circle cx="728.3" cy="765.5" r="2.4" fill="none" stroke="#555" stroke-width="0.6"/><circle cx="728.3" cy="765.5" r="0.6" fill="#555"/>
<rect x="775" y="762.4" width="13.2" height="6.1" fill="none" stroke="#333" stroke-width="0.7"/>
<text class="lg" x="777.6" y="767.2" style="font-size:3.6px">R.Q</text>
<circle cx="836.1" cy="764.8" r="4.6" fill="none" stroke="#444" stroke-width="0.6"/>
<text class="lg" x="836.1" y="767.1" text-anchor="middle" style="font-size:6px;font-weight:400;fill:#444">K</text>
<path d="M881.3 765.5 L906.7 765.5 M881.5 765.5 L885 760 L888.5 765.5" fill="none" stroke="#555" stroke-width="0.6"/>
<text class="lg" x="885.7" y="771.6" style="font-size:4.4px">2.800</text>
<circle cx="946.1" cy="764.3" r="4.6" fill="none" stroke="#444" stroke-width="0.6"/>
<line class="wd" x1="941.5" y1="764.3" x2="950.7" y2="764.3"/>
<text class="lg" x="493.3" y="785.5" textLength="13" lengthAdjust="spacingAndGlyphs">强电箱</text>
<text class="lg" x="548.5" y="785.5" textLength="13" lengthAdjust="spacingAndGlyphs">弱电箱</text>
<text class="lg" x="601.7" y="785.5" textLength="17" lengthAdjust="spacingAndGlyphs">厨卫下水</text>
<text class="lg" x="658.5" y="785.5" textLength="13" lengthAdjust="spacingAndGlyphs">下水管</text>
<text class="lg" x="719.3" y="785.5" textLength="9" lengthAdjust="spacingAndGlyphs">地漏</text>
<text class="lg" x="768.9" y="785.5" textLength="13" lengthAdjust="spacingAndGlyphs">燃气表</text>
<text class="lg" x="820.2" y="785.5" textLength="17" lengthAdjust="spacingAndGlyphs">空调洞口</text>
<text class="lg" x="882.5" y="785.5" textLength="12" lengthAdjust="spacingAndGlyphs">层 高</text>
<text class="lg" x="934.5" y="785.5" textLength="13" lengthAdjust="spacingAndGlyphs">上水管</text>
<text class="wm1" x="21.4" y="34.3" textLength="165" lengthAdjust="spacingAndGlyphs">更多装修资讯敬请搜索</text>
<rect x="21.2" y="40.8" width="165.2" height="38.6" fill="none" stroke="#000" stroke-width="1.4"/>
<line class="fr" x1="135.4" y1="40.8" x2="135.4" y2="79.4"/>
<text class="wm2" x="25.9" y="69.6" textLength="98.5" lengthAdjust="spacingAndGlyphs">锦华装饰</text>
<circle cx="154.6" cy="54.6" r="9.1" fill="none" stroke="#000" stroke-width="3.2"/>
<line x1="162.6" y1="61.4" x2="176.4" y2="70.2" stroke="#000" stroke-width="4.8" stroke-linecap="round"/>
<g fill="#000" stroke="#777" stroke-width="0.4" stroke-linejoin="round">
<path d="M981.3 795.25 L985.15 797.48 L981.3 799.7 L977.45 797.48 Z"/>
<path d="M985.15 801.92 L981.3 804.15 L981.3 799.7 L985.15 797.48 Z"/>
<path d="M977.45 801.92 L981.3 804.15 L981.3 799.7 L977.45 797.48 Z"/>
<path d="M981.3 775.45 L985.15 777.67 L981.3 779.9 L977.45 777.67 Z"/>
<path d="M985.15 797.48 L981.3 799.7 L981.3 779.9 L985.15 777.67 Z"/>
<path d="M977.45 797.48 L981.3 799.7 L981.3 779.9 L977.45 777.67 Z"/>
<path d="M977.45 797.48 L981.3 799.7 L964.15 809.6 L960.3 807.38 Z"/>
<path d="M981.3 804.15 L964.15 814.05 L964.15 809.6 L981.3 799.7 Z"/>
<path d="M960.3 811.83 L964.15 814.05 L964.15 809.6 L960.3 807.38 Z"/>
<path d="M985.15 797.48 L1002.3 807.38 L998.45 809.6 L981.3 799.7 Z"/>
<path d="M1002.3 811.83 L998.45 814.05 L998.45 809.6 L1002.3 807.38 Z"/>
<path d="M981.3 804.15 L998.45 814.05 L998.45 809.6 L981.3 799.7 Z"/>
<path d="M981.3 771 L985.15 773.22 L981.3 775.45 L977.45 773.22 Z"/>
<path d="M985.15 777.67 L981.3 779.9 L981.3 775.45 L985.15 773.22 Z"/>
<path d="M977.45 777.67 L981.3 779.9 L981.3 775.45 L977.45 773.22 Z"/>
<path d="M960.3 807.38 L964.15 809.6 L960.3 811.83 L956.45 809.6 Z"/>
<path d="M964.15 814.05 L960.3 816.27 L960.3 811.83 L964.15 809.6 Z"/>
<path d="M956.45 814.05 L960.3 816.27 L960.3 811.83 L956.45 809.6 Z"/>
<path d="M1002.3 807.38 L1006.15 809.6 L1002.3 811.83 L998.45 809.6 Z"/>
<path d="M1006.15 814.05 L1002.3 816.27 L1002.3 811.83 L1006.15 809.6 Z"/>
<path d="M998.45 814.05 L1002.3 816.27 L1002.3 811.83 L998.45 809.6 Z"/>
<path d="M977.45 773.22 L981.3 775.45 L964.15 785.35 L960.3 783.13 Z"/>
<path d="M981.3 779.9 L964.15 789.8 L964.15 785.35 L981.3 775.45 Z"/>
<path d="M960.3 787.57 L964.15 789.8 L964.15 785.35 L960.3 783.13 Z"/>
<path d="M960.3 787.57 L964.15 789.8 L960.3 792.02 L956.45 789.8 Z"/>
<path d="M964.15 809.6 L960.3 811.83 L960.3 792.02 L964.15 789.8 Z"/>
<path d="M956.45 809.6 L960.3 811.83 L960.3 792.02 L956.45 789.8 Z"/>
<path d="M985.15 773.22 L1002.3 783.13 L998.45 785.35 L981.3 775.45 Z"/>
<path d="M1002.3 787.57 L998.45 789.8 L998.45 785.35 L1002.3 783.13 Z"/>
<path d="M981.3 779.9 L998.45 789.8 L998.45 785.35 L981.3 775.45 Z"/>
<path d="M964.15 809.6 L981.3 819.5 L977.45 821.73 L960.3 811.83 Z"/>
<path d="M981.3 823.95 L977.45 826.18 L977.45 821.73 L981.3 819.5 Z"/>
<path d="M960.3 816.27 L977.45 826.18 L977.45 821.73 L960.3 811.83 Z"/>
<path d="M1002.3 787.57 L1006.15 789.8 L1002.3 792.02 L998.45 789.8 Z"/>
<path d="M1006.15 809.6 L1002.3 811.83 L1002.3 792.02 L1006.15 789.8 Z"/>
<path d="M998.45 809.6 L1002.3 811.83 L1002.3 792.02 L998.45 789.8 Z"/>
<path d="M998.45 809.6 L1002.3 811.83 L985.15 821.73 L981.3 819.5 Z"/>
<path d="M1002.3 816.27 L985.15 826.18 L985.15 821.73 L1002.3 811.83 Z"/>
<path d="M981.3 823.95 L985.15 826.18 L985.15 821.73 L981.3 819.5 Z"/>
<path d="M960.3 783.13 L964.15 785.35 L960.3 787.57 L956.45 785.35 Z"/>
<path d="M964.15 789.8 L960.3 792.02 L960.3 787.57 L964.15 785.35 Z"/>
<path d="M956.45 789.8 L960.3 792.02 L960.3 787.57 L956.45 785.35 Z"/>
<path d="M1002.3 783.13 L1006.15 785.35 L1002.3 787.57 L998.45 785.35 Z"/>
<path d="M1006.15 789.8 L1002.3 792.02 L1002.3 787.57 L1006.15 785.35 Z"/>
<path d="M998.45 789.8 L1002.3 792.02 L1002.3 787.57 L998.45 785.35 Z"/>
<path d="M981.3 819.5 L985.15 821.73 L981.3 823.95 L977.45 821.73 Z"/>
<path d="M985.15 826.18 L981.3 828.4 L981.3 823.95 L985.15 821.73 Z"/>
<path d="M977.45 826.18 L981.3 828.4 L981.3 823.95 L977.45 821.73 Z"/>
<path d="M964.15 785.35 L981.3 795.25 L977.45 797.48 L960.3 787.57 Z"/>
<path d="M981.3 799.7 L977.45 801.92 L977.45 797.48 L981.3 795.25 Z"/>
<path d="M960.3 792.02 L977.45 801.92 L977.45 797.48 L960.3 787.57 Z"/>
<path d="M998.45 785.35 L1002.3 787.57 L985.15 797.48 L981.3 795.25 Z"/>
<path d="M1002.3 792.02 L985.15 801.92 L985.15 797.48 L1002.3 787.57 Z"/>
<path d="M981.3 799.7 L985.15 801.92 L985.15 797.48 L981.3 795.25 Z"/>
<path d="M981.3 799.7 L985.15 801.92 L981.3 804.15 L977.45 801.92 Z"/>
<path d="M985.15 821.73 L981.3 823.95 L981.3 804.15 L985.15 801.92 Z"/>
<path d="M977.45 821.73 L981.3 823.95 L981.3 804.15 L977.45 801.92 Z"/>
<path d="M981.3 795.25 L985.15 797.48 L981.3 799.7 L977.45 797.48 Z"/>
<path d="M985.15 801.92 L981.3 804.15 L981.3 799.7 L985.15 797.48 Z"/>
<path d="M977.45 801.92 L981.3 804.15 L981.3 799.7 L977.45 797.48 Z"/>
</g>
<text class="lg1" x="1014.6" y="794.7" textLength="113.2" lengthAdjust="spacingAndGlyphs">锦华装饰</text>
<text class="lg1" x="1015.4" y="825" textLength="112.6" lengthAdjust="spacingAndGlyphs">设计专家</text>
<text class="url" y="846.6"><tspan x="956.6" textLength="48" lengthAdjust="spacingAndGlyphs">WWW</tspan><tspan x="1010.6" textLength="5" lengthAdjust="spacingAndGlyphs">.</tspan><tspan x="1017.9" textLength="62.6" lengthAdjust="spacingAndGlyphs">JHZS</tspan><tspan x="1080.4" textLength="5" lengthAdjust="spacingAndGlyphs">.</tspan><tspan x="1086" textLength="44.6" lengthAdjust="spacingAndGlyphs">COM</tspan></text>
</svg>
</body>
</html>
